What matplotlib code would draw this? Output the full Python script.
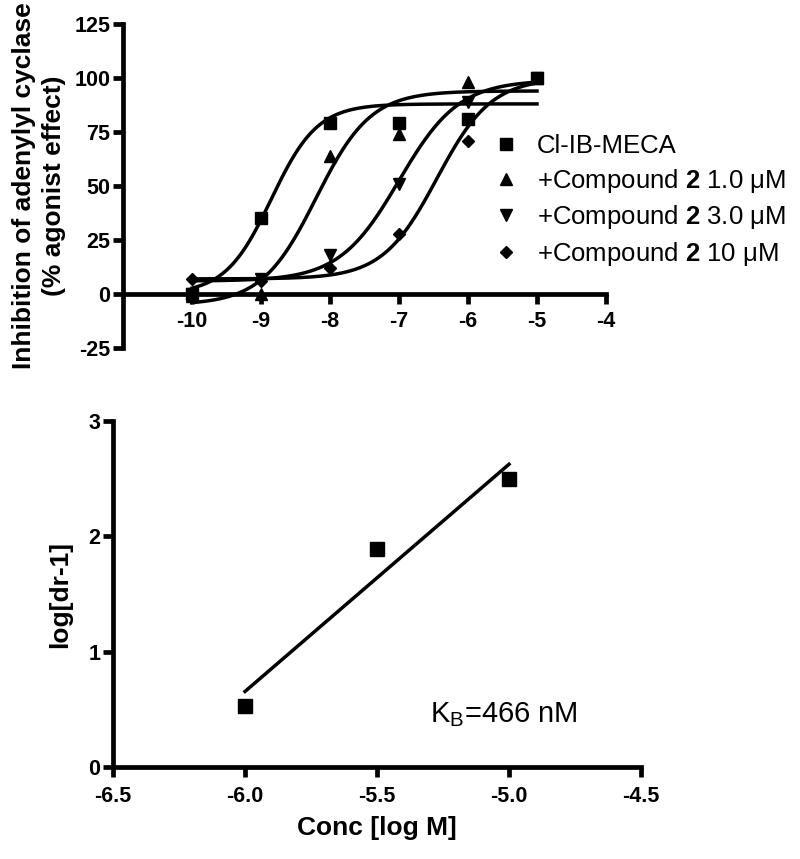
import numpy as np
import matplotlib
matplotlib.use('Agg')
import matplotlib.pyplot as plt

plt.rcParams['font.family'] = ['Liberation Sans', 'DejaVu Sans']
plt.rcParams['mathtext.fontset'] = 'custom'
plt.rcParams['mathtext.rm'] = 'Liberation Sans'
plt.rcParams['mathtext.bf'] = 'Liberation Sans:bold'
plt.rcParams['mathtext.it'] = 'Liberation Sans:italic'
plt.rcParams['axes.unicode_minus'] = False

# concentration-response data (% agonist effect)
log_conc = [-10, -9, -8, -7, -6, -5]
cl_ib_meca = [0, 35, 79, 79, 81, 100]
cmpd_1uM = [-1, 0, 64, 74, 98, 100]
cmpd_3uM = [0, 7, 18, 51, 89, 100]
cmpd_10uM = [7, 6, 12, 28, 71, 100]

series_labels = ['Cl-IB-MECA',
                 r'+Compound $\mathbf{2}$ 1.0 μM',
                 r'+Compound $\mathbf{2}$ 3.0 μM',
                 r'+Compound $\mathbf{2}$ 10 μM']
series_markers = ['s', '^', 'v', 'D']
series_sizes = [8.5, 9, 9, 6.5]

# sigmoidal fit parameters (bottom, top, logEC50, hill)
fit_bottom = [0, -5, 6, 7]
fit_top = [88, 94, 99, 100]
fit_logec50 = [-8.85, -8.2, -7.0, -6.45]
fit_hill = [1.3, 1.1, 1.0, 1.1]

# Schild plot
schild_x = [-6.0, -5.5, -5.0]
schild_y = [0.53, 1.89, 2.50]

fig = plt.figure(figsize=(8, 8.59), dpi=100)
W, H = 800, 859

def px_axes(left, top, right, bottom):
    return fig.add_axes([left / W, 1 - bottom / H, (right - left) / W, (bottom - top) / H])

lw_spine = 3.4
lw_curve = 2.5

# ---- top panel ----
ax1 = px_axes(123, 24, 606, 348)
xs = np.linspace(-10, -5, 300)
all_y = [cl_ib_meca, cmpd_1uM, cmpd_3uM, cmpd_10uM]
handles = []
for i in range(4):
    curve = fit_bottom[i] + (fit_top[i] - fit_bottom[i]) / (1 + 10 ** ((fit_logec50[i] - xs) * fit_hill[i]))
    ax1.plot(xs, curve, color='black', lw=lw_curve, zorder=3)
    h, = ax1.plot(log_conc, all_y[i], linestyle='none', marker=series_markers[i],
                  ms=series_sizes[i], color='black', zorder=4, clip_on=False)
    handles.append(h)

ax1.set_xlim(-11, -4)
ax1.set_ylim(-25, 125)
ax1.set_xticks(range(-10, -3))
ax1.set_yticks([-25, 0, 25, 50, 75, 100, 125])
ax1.spines['top'].set_visible(False)
ax1.spines['right'].set_visible(False)
ax1.spines['bottom'].set_position(('data', 0))
for s in ['left', 'bottom']:
    ax1.spines[s].set_linewidth(lw_spine)
ax1.tick_params(axis='both', width=lw_spine, length=7, labelsize=15.5)
ax1.tick_params(axis='x', pad=5)
ax1.tick_params(axis='y', pad=2)
for t in ax1.get_xticklabels() + ax1.get_yticklabels():
    t.set_fontweight('bold')
ax1.set_ylabel('Inhibition of adenylyl cyclase\n(% agonist effect)', fontsize=19,
               fontweight='bold', linespacing=1.3, labelpad=6)
ax1.text(0.5, 355 / H, 'Conc [log M]', transform=fig.transFigure, ha='center', va='center',
         fontsize=19, fontweight='bold')

leg = ax1.legend(handles, series_labels, loc='upper left',
                 bbox_to_anchor=(493 / W, 1 - 134 / H), bbox_transform=fig.transFigure,
                 frameon=False, fontsize=18.5, handlelength=1.0, handletextpad=0.7,
                 labelspacing=0.34, borderpad=0, borderaxespad=0)

# ---- bottom panel ----
ax2 = px_axes(113, 421, 641, 767)
ax2.plot(schild_x, schild_y, linestyle='none', marker='s', ms=9.5, color='black', zorder=4)
slope, intercept = np.polyfit(schild_x, schild_y, 1)
fit_x = np.array([min(schild_x), max(schild_x)])
ax2.plot(fit_x, slope * fit_x + intercept, color='black', lw=lw_curve, zorder=3)
ax2.set_xlim(-6.5, -4.5)
ax2.set_ylim(0, 3)
ax2.set_xticks([-6.5, -6.0, -5.5, -5.0, -4.5])
ax2.set_xticklabels(['-6.5', '-6.0', '-5.5', '-5.0', '-4.5'])
ax2.set_yticks([0, 1, 2, 3])
ax2.spines['top'].set_visible(False)
ax2.spines['right'].set_visible(False)
for s in ['left', 'bottom']:
    ax2.spines[s].set_linewidth(lw_spine)
ax2.tick_params(axis='both', width=lw_spine, length=7, labelsize=15.5)
ax2.tick_params(axis='x', pad=7)
ax2.tick_params(axis='y', pad=2)
for t in ax2.get_xticklabels() + ax2.get_yticklabels():
    t.set_fontweight('bold')
ax2.set_ylabel('log[dr-1]', fontsize=19, fontweight='bold', labelpad=12)
ax2.set_xlabel('Conc [log M]', fontsize=19, fontweight='bold', labelpad=6)
ax2.text(-5.30, 0.39, r'K$_\mathregular{B}$=466 nM', fontsize=21, ha='left', va='baseline')

fig.savefig('out.png', dpi=100)
